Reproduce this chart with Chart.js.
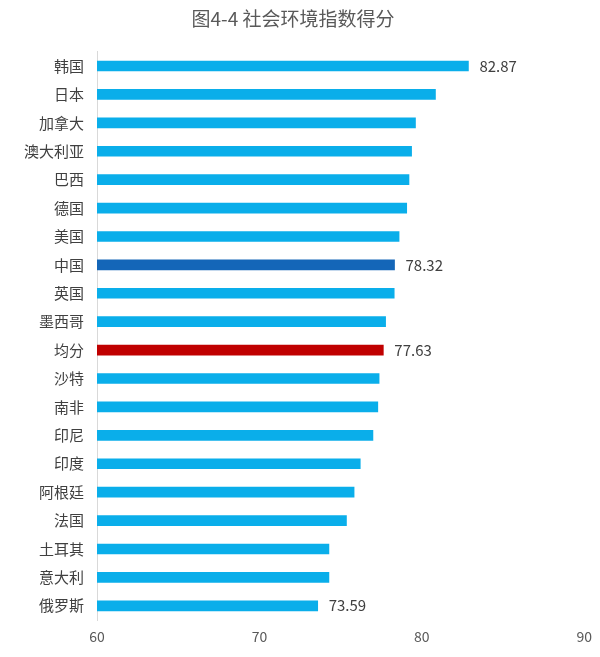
<!DOCTYPE html>
<html>
<head>
<meta charset="utf-8">
<script src="https://cdn.jsdelivr.net/npm/chart.js@4"></script>
<style>
html,body{margin:0;padding:0;background:#fff;}
#wrap{width:600px;height:657px;}
</style>
</head>
<body>
<div id="wrap"><canvas id="c" width="600" height="657"></canvas></div>
<script>
const categories = ["韩国","日本","加拿大","澳大利亚","巴西","德国","美国","中国","英国","墨西哥","均分","沙特","南非","印尼","印度","阿根廷","法国","土耳其","意大利","俄罗斯"];
const scores = [82.87,80.84,79.61,79.37,79.21,79.07,78.60,78.32,78.30,77.77,77.63,77.37,77.29,76.99,76.21,75.83,75.36,74.28,74.28,73.59];
const labeled = ["韩国","中国","均分","俄罗斯"];
const xTicks = [60,70,80,90];
const titleText = "图4-4 社会环境指数得分";

const FONT = "'Noto Sans CJK SC','Noto Sans',sans-serif";
const colors = categories.map(c => c === "中国" ? "#1466b8" : (c === "均分" ? "#c00000" : "#0aaeea"));

const valueLabels = {
  id: 'valueLabels',
  afterDatasetsDraw(chart) {
    const ctx = chart.ctx;
    const meta = chart.getDatasetMeta(0);
    ctx.save();
    ctx.font = "15px " + FONT;
    ctx.fillStyle = "#404040";
    ctx.textAlign = "left";
    ctx.textBaseline = "middle";
    meta.data.forEach((bar, i) => {
      if (labeled.includes(categories[i])) {
        ctx.fillText(scores[i].toFixed(2), bar.x + 11, bar.y);
      }
    });
    ctx.restore();
  }
};

new Chart(document.getElementById('c'), {
  type: 'bar',
  data: {
    labels: categories,
    datasets: [{
      data: scores,
      backgroundColor: colors,
      barThickness: 10,
      borderWidth: 0,
      base: 60
    }]
  },
  options: {
    indexAxis: 'y',
    responsive: false,
    animation: false,
    layout: { padding: { left: 0, right: 14, top: 0, bottom: 0 } },
    plugins: {
      legend: { display: false },
      tooltip: { enabled: false },
      title: {
        display: true,
        text: titleText,
        color: "#595959",
        font: { family: FONT, size: 19, weight: 'normal' },
        padding: { top: 7, bottom: 22 }
      }
    },
    scales: {
      x: {
        min: 60, max: 90,
        afterBuildTicks(scale) { scale.ticks = xTicks.map(v => ({ value: v })); },
        grid: { display: false, drawTicks: false },
        border: { display: false },
        ticks: { color: "#595959", font: { family: FONT, size: 14 }, padding: 8 },
        afterFit(scale) { scale.height = 37; }
      },
      y: {
        grid: { display: false, drawTicks: false },
        border: { display: true, color: "#d9d9d9", width: 1 },
        ticks: { color: "#404040", font: { family: FONT, size: 15 }, padding: 13 },
        afterFit(scale) { scale.width = 97; }
      }
    }
  },
  plugins: [valueLabels]
});
</script>
</body>
</html>
